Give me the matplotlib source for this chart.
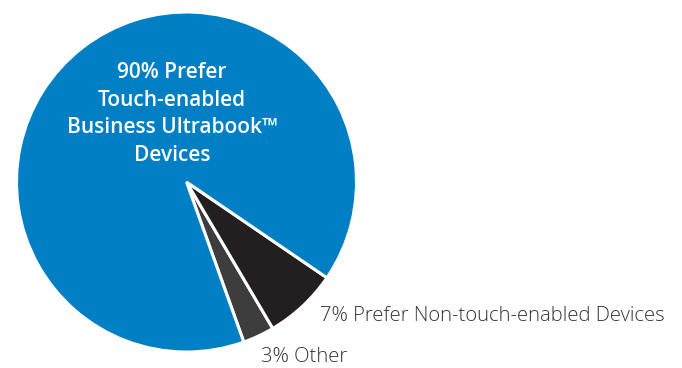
#/usr/bin/python3

import matplotlib
matplotlib.use("Agg")
import matplotlib.pyplot as plt

# survey shares, drawn counter-clockwise in this order
labels = ["3% Other", "7% Prefer Non-touch-enabled Devices",
          "90% Prefer\nTouch-enabled\nBusiness Ultrabook\u2122\nDevices"]
shares = [3, 7, 90]
colors = ["#3d3d3d", "#231f20", "#007fc5"]

fig = plt.figure(figsize=(6.82, 3.68), dpi=100)
ax = fig.add_axes([0, 0, 1, 1])

# pixel-like coordinates: 682 wide, 368 tall
ax.pie(shares, colors=colors, startangle=-70.3, counterclock=True,
       center=(186.5, 186), radius=170,
       wedgeprops=dict(edgecolor="white", linewidth=2.2))

ax.set_xlim(0, 682)
ax.set_ylim(0, 368)
ax.set_aspect("equal")
ax.axis("off")

ax.text(172, 254, labels[2], color="white", fontsize=15, fontweight="semibold",
        family=["Open Sans", "DejaVu Sans"], ha="center", va="center",
        linespacing=1.4)
ax.text(320, 52, labels[1], color="#333333", fontsize=14.6,
        family=["Open Sans", "DejaVu Sans"], fontweight="light",
        ha="left", va="center")
ax.text(261, 1, labels[0], color="#333333", fontsize=14.6,
        family=["Open Sans", "DejaVu Sans"], fontweight="light",
        ha="left", va="bottom")

fig.savefig("out.png", dpi=100)
